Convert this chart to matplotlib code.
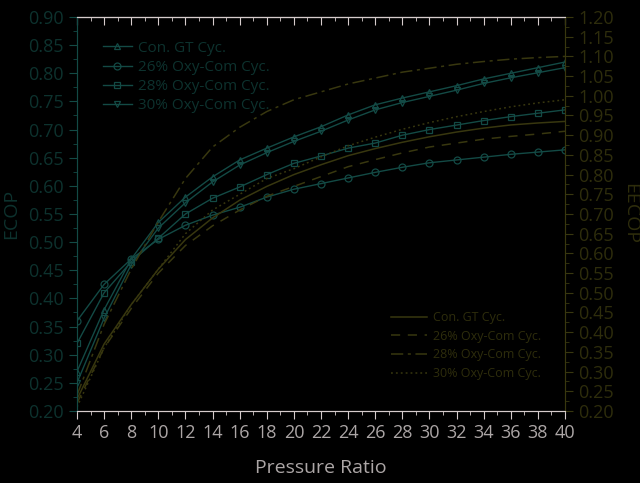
import matplotlib
matplotlib.use("Agg")
import matplotlib.pyplot as plt

pressure_ratio = [4, 6, 8, 10, 12, 14, 16, 18, 20, 22, 24, 26, 28, 30, 32, 34, 36, 38, 40]

# ECOP (left axis)
ecop_con = [0.27, 0.38, 0.47, 0.535, 0.58, 0.616, 0.646, 0.667, 0.687, 0.705, 0.726,
            0.744, 0.756, 0.767, 0.778, 0.790, 0.800, 0.810, 0.820]
ecop_26 = [0.36, 0.425, 0.47, 0.505, 0.53, 0.548, 0.562, 0.58, 0.594, 0.604, 0.614,
           0.624, 0.633, 0.641, 0.646, 0.651, 0.656, 0.660, 0.664]
ecop_28 = [0.32, 0.41, 0.465, 0.507, 0.55, 0.578, 0.598, 0.62, 0.64, 0.653, 0.667,
           0.676, 0.69, 0.70, 0.708, 0.716, 0.723, 0.729, 0.735]
ecop_30 = [0.25, 0.365, 0.46, 0.525, 0.57, 0.607, 0.637, 0.659, 0.679, 0.697, 0.717,
           0.735, 0.748, 0.759, 0.770, 0.782, 0.792, 0.801, 0.810]

# EECOP (right axis)
eecop_con = [0.23, 0.37, 0.47, 0.56, 0.635, 0.69, 0.735, 0.77, 0.80, 0.825, 0.848,
             0.866, 0.882, 0.896, 0.908, 0.918, 0.926, 0.931, 0.935]
eecop_26 = [0.22, 0.36, 0.46, 0.55, 0.62, 0.67, 0.71, 0.745, 0.77, 0.795, 0.82,
            0.838, 0.855, 0.87, 0.88, 0.89, 0.897, 0.903, 0.91]
eecop_28 = [0.24, 0.42, 0.56, 0.68, 0.79, 0.87, 0.92, 0.96, 0.99, 1.01, 1.03,
            1.045, 1.06, 1.07, 1.08, 1.087, 1.093, 1.097, 1.10]
eecop_30 = [0.21, 0.36, 0.47, 0.56, 0.65, 0.71, 0.75, 0.79, 0.815, 0.845, 0.873,
            0.895, 0.915, 0.932, 0.947, 0.96, 0.972, 0.982, 0.99]

labels_left = ["Con. GT Cyc.", "26% Oxy-Com Cyc.", "28% Oxy-Com Cyc.", "30% Oxy-Com Cyc."]
labels_right = ["Con. GT Cyc.", "26% Oxy-Com Cyc.", "28% Oxy-Com Cyc.", "30% Oxy-Com Cyc."]

TEAL = "#134a45"
TEAL_TXT = "#0d322e"
OLIVE = "#38370f"
OLIVE_TXT = "#2e2d0c"
GRAY = "#aca6a6"
SPINE = "#d6cccc"

plt.rcParams["font.family"] = ["Open Sans", "DejaVu Sans"]

fig = plt.figure(figsize=(6.4, 4.83), dpi=100, facecolor="black")
ax = fig.add_axes([0.1203, 0.1491, 0.7625, 0.8157], facecolor="black")
ax2 = ax.twinx()

markers = ["^", "o", "s", "v"]
for ys, m, lab in zip([ecop_con, ecop_26, ecop_28, ecop_30], markers, labels_left):
    ax.plot(pressure_ratio, ys, color=TEAL, lw=1.0, marker=m, ms=5,
            mfc="none", mec=TEAL, mew=0.9, label=lab)

styles = ["-", (0, (6, 5)), (0, (8, 3, 2, 3)), (0, (1.2, 2))]
for ys, ls, lab in zip([eecop_con, eecop_26, eecop_28, eecop_30], styles, labels_right):
    ax2.plot(pressure_ratio, ys, color=OLIVE, lw=1.1, ls=ls, label=lab)

ax.set_xlim(4, 40)
ax.set_ylim(0.20, 0.90)
ax2.set_ylim(0.20, 1.20)
ax.set_xticks(range(4, 41, 2))
ax.set_xticks(range(5, 40, 2), minor=True)
ax.set_yticks([0.20 + 0.05 * i for i in range(15)])
ax.set_yticks([0.225 + 0.05 * i for i in range(14)], minor=True)
ax2.set_yticks([0.20 + 0.05 * i for i in range(21)])
ax2.set_yticks([0.225 + 0.05 * i for i in range(20)], minor=True)
ax.yaxis.set_major_formatter(matplotlib.ticker.FormatStrFormatter("%.2f"))
ax2.yaxis.set_major_formatter(matplotlib.ticker.FormatStrFormatter("%.2f"))

for a in (ax, ax2):
    a.spines["top"].set_color(SPINE)
    a.spines["bottom"].set_color(SPINE)
    a.spines["left"].set_color(TEAL)
    a.spines["right"].set_color(OLIVE)

ax.tick_params(axis="x", which="major", direction="out", length=6, color=SPINE,
               labelcolor=GRAY, labelsize=13)
ax.tick_params(axis="x", which="minor", direction="out", length=3, color=SPINE)
ax.tick_params(axis="y", which="major", direction="out", length=6, color=TEAL,
               labelcolor=TEAL_TXT, labelsize=13)
ax.tick_params(axis="y", which="minor", direction="out", length=3, color=TEAL)
ax2.tick_params(axis="y", which="major", direction="out", length=6, color=OLIVE,
                labelcolor=OLIVE_TXT, labelsize=13)
ax2.tick_params(axis="y", which="minor", direction="out", length=3, color=OLIVE)

top = ax.secondary_xaxis("top")
top.set_xticks(range(4, 41, 2))
top.set_xticks(range(5, 40, 2), minor=True)
top.tick_params(which="major", direction="in", length=6, color=SPINE, labeltop=False)
top.tick_params(which="minor", direction="in", length=3, color=SPINE)
top.spines["top"].set_color(SPINE)

ax.set_xlabel("Pressure Ratio", color=GRAY, fontsize=14, labelpad=12)
ax.set_ylabel("ECOP", color=TEAL_TXT, fontsize=14, labelpad=6)
ax2.set_ylabel("EECOP", color=OLIVE_TXT, fontsize=14, rotation=270, labelpad=18)

leg1 = ax.legend(loc="upper left", bbox_to_anchor=(0.025, 0.975), frameon=False,
                 fontsize=11, handlelength=1.9, handletextpad=0.4, labelspacing=0.28)
for t in leg1.get_texts():
    t.set_color(TEAL_TXT)
leg2 = ax2.legend(loc="lower right", bbox_to_anchor=(0.975, 0.05), frameon=False,
                  fontsize=9, handlelength=2.9, handletextpad=0.5, labelspacing=0.45)
for t in leg2.get_texts():
    t.set_color(OLIVE_TXT)

fig.savefig("out.png", dpi=100, facecolor="black")
